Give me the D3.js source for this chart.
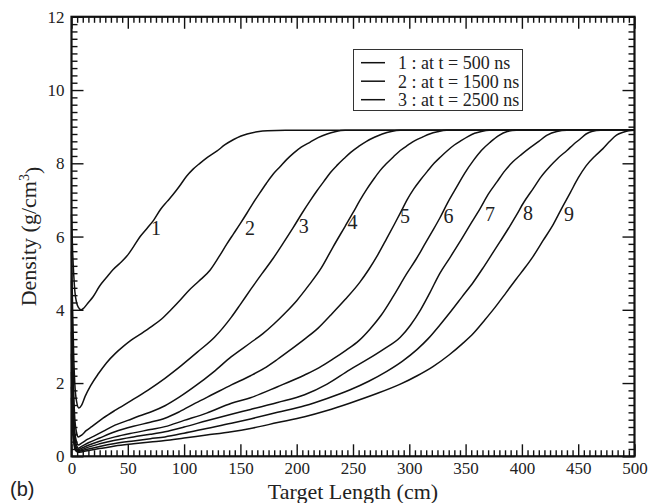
<!DOCTYPE html>
<html>
<head>
<meta charset="utf-8">
<script src="https://cdn.jsdelivr.net/npm/d3@7"></script>
<style>
  html, body { margin: 0; padding: 0; background: #fff; }
  svg { display: block; }
  svg text { font-family: "Liberation Serif", "Times New Roman", Times, serif; }
  svg text.tag { font-family: "Liberation Sans", Arial, sans-serif; }
</style>
</head>
<body>
<svg id="chart" width="650" height="503"></svg>
<script>
// Density profiles along the target (cm -> g/cm^3), one array per curve
const curve1 = [[0,6.6],[1,5.6],[2,4.95],[3,4.5],[4.5,4.2],[6,4.07],[8.5,4.0],[11,4.05],[15,4.2],[19,4.35],[25,4.65],[31,4.88],[37,5.1],[43,5.27],[49,5.46],[55,5.72],[61,6.0],[67,6.22],[73,6.45],[79,6.74],[85,6.96],[90,7.14],[96,7.38],[102,7.64],[108,7.84],[114,8.0],[121,8.17],[129,8.33],[136,8.5],[144,8.65],[150,8.74],[156,8.8],[165,8.86],[174,8.89],[190,8.9],[500,8.9]];
const curve2 = [[0,5.6],[1,4.0],[2,2.7],[3,1.95],[4.5,1.5],[6.5,1.32],[9,1.4],[12,1.63],[17,1.93],[24,2.26],[31,2.55],[39,2.81],[46,3.0],[53,3.17],[62,3.35],[71,3.54],[80,3.75],[89,4.02],[97,4.28],[104,4.52],[113,4.78],[123,5.08],[131,5.45],[138,5.8],[144,6.08],[150,6.36],[156,6.65],[161,6.9],[167,7.18],[173,7.45],[179,7.7],[185,7.9],[191,8.1],[197,8.27],[204,8.44],[212,8.58],[219,8.7],[227,8.8],[234,8.86],[243,8.9],[500,8.9]];
const curve3 = [[0,4.8],[1,3.0],[2,1.7],[3,1.0],[4.5,0.65],[6,0.53],[9,0.58],[13,0.7],[18,0.81],[28,1.04],[39,1.26],[53,1.52],[68,1.81],[83,2.13],[98,2.49],[112,2.85],[127,3.25],[142,3.8],[150,4.15],[159,4.55],[169,4.98],[179,5.4],[188,5.82],[197,6.25],[205,6.65],[212,6.98],[218,7.25],[224,7.5],[230,7.75],[236,7.95],[242,8.13],[248,8.3],[255,8.46],[262,8.6],[269,8.71],[276,8.8],[284,8.87],[292,8.9],[500,8.9]];
const curve4 = [[0,4.0],[1,2.3],[2,1.2],[3,0.65],[4.5,0.4],[6,0.31],[9,0.36],[14,0.46],[20,0.55],[28,0.68],[38.6,0.85],[50,0.98],[60,1.1],[72,1.23],[83,1.38],[96,1.62],[110,1.92],[126,2.3],[142,2.72],[159,3.1],[170,3.35],[180,3.62],[190,3.92],[200,4.25],[211,4.68],[222,5.15],[232,5.7],[243,6.28],[250,6.65],[256,6.98],[262,7.28],[268,7.55],[274,7.8],[280,8.0],[286,8.18],[292,8.35],[299,8.5],[305,8.62],[312,8.72],[318,8.8],[325,8.86],[333,8.9],[500,8.9]];
const curve5 = [[0,3.4],[1,1.8],[2,0.9],[3,0.5],[4.5,0.3],[6,0.22],[9,0.27],[15,0.37],[25,0.5],[38.6,0.67],[55,0.82],[70,0.93],[83,1.04],[96,1.22],[110,1.45],[126,1.7],[142,1.95],[159,2.2],[171,2.4],[183,2.65],[195,2.92],[207,3.2],[219,3.5],[230,3.85],[243,4.28],[256,4.75],[264,5.1],[272,5.5],[280,5.95],[287,6.35],[293,6.7],[298,7.0],[304,7.3],[310,7.55],[316,7.78],[322,8.0],[328,8.18],[334,8.35],[340,8.5],[346,8.62],[352,8.73],[358,8.82],[364,8.87],[371,8.9],[500,8.9]];
const curve6 = [[0,2.8],[1,1.4],[2,0.7],[3,0.38],[4.5,0.23],[6,0.18],[9,0.22],[15,0.3],[25,0.41],[38.6,0.53],[55,0.64],[70,0.73],[83,0.81],[100,0.98],[120,1.18],[142,1.45],[159,1.6],[183,1.9],[207,2.22],[220,2.42],[232,2.65],[244,2.9],[255,3.15],[265,3.47],[275,3.85],[286,4.38],[298,5.0],[306,5.38],[313,5.75],[320,6.12],[327,6.5],[334,6.92],[342,7.35],[349,7.72],[357,8.08],[364,8.35],[372,8.58],[379,8.75],[387,8.87],[395,8.9],[500,8.9]];
const curve7 = [[0,2.3],[1,1.1],[2,0.55],[3,0.3],[4.5,0.18],[6,0.15],[9,0.18],[15,0.25],[25,0.34],[38.6,0.44],[55,0.53],[70,0.6],[83,0.67],[100,0.8],[120,0.97],[142,1.15],[159,1.28],[183,1.47],[207,1.68],[227,1.97],[247,2.36],[262,2.63],[277,2.92],[292,3.25],[301,3.58],[310,4.0],[318,4.45],[327,4.99],[336,5.42],[345,5.86],[354,6.32],[363,6.77],[370,7.15],[378,7.5],[385,7.8],[392,8.04],[400,8.25],[407,8.42],[415,8.6],[422,8.76],[431,8.87],[440,8.9],[500,8.9]];
const curve8 = [[0,1.9],[1,0.9],[2,0.45],[3,0.25],[4.5,0.15],[6,0.13],[9,0.15],[15,0.2],[25,0.27],[38.6,0.35],[55,0.42],[70,0.48],[83,0.53],[100,0.63],[120,0.76],[142,0.9],[159,1.02],[183,1.2],[207,1.38],[227,1.58],[247,1.81],[264,2.05],[280,2.32],[294,2.6],[307,2.92],[317,3.22],[327,3.58],[337,3.96],[347,4.36],[357,4.76],[365,5.12],[373,5.5],[381,5.88],[388,6.22],[395,6.58],[402,6.95],[410,7.31],[417,7.63],[425,7.92],[432,8.14],[440,8.35],[446,8.52],[452,8.67],[457,8.8],[462,8.87],[470,8.9],[500,8.9]];
const curve9 = [[0,1.6],[1,0.75],[2,0.38],[3,0.2],[4.5,0.13],[6,0.11],[9,0.12],[15,0.16],[25,0.21],[38.6,0.28],[55,0.34],[70,0.39],[83,0.43],[100,0.5],[120,0.58],[142,0.67],[159,0.76],[183,0.92],[207,1.08],[227,1.25],[247,1.45],[270,1.7],[292,1.97],[307,2.2],[321,2.45],[335,2.76],[347,3.07],[357,3.36],[367,3.72],[377,4.1],[386,4.47],[395,4.84],[403,5.16],[410,5.46],[419,5.9],[428,6.34],[435,6.75],[443,7.2],[450,7.6],[457,7.93],[465,8.2],[472,8.4],[478,8.6],[484,8.77],[490,8.85],[495,8.89],[500,8.9]];

const curves = [curve1, curve2, curve3, curve4, curve5, curve6, curve7, curve8, curve9];

// Curve numbers and where each one is written (cm, g/cm^3)
const curveNames = ["1", "2", "3", "4", "5", "6", "7", "8", "9"];
const curveNameAt = [[75,6.04],[158.5,6.04],[206.2,6.09],[249.6,6.2],[296.2,6.38],[334.8,6.38],[371.7,6.42],[405.4,6.45],[441.8,6.42]];

const legendLabels = ["1 : at t = 500 ns", "2 : at t = 1500 ns", "3 : at t = 2500 ns"];

const xTicks = [0, 50, 100, 150, 200, 250, 300, 350, 400, 450, 500];
const yTicks = [0, 2, 4, 6, 8, 10, 12];
const xMinor = d3.range(0, 500.01, 5).filter(v => v % 50 !== 0);
const yMinor = d3.range(0, 12.001, 0.2).map(v => +v.toFixed(1)).filter(v => Math.abs(v / 2 - Math.round(v / 2)) > 1e-6);

const svg = d3.select("#chart");
const ink = "#111";

const x = d3.scaleLinear().domain([0, 500]).range([71.5, 634.5]);
const y = d3.scaleLinear().domain([0, 12]).range([456.3, 16.8]);

const x0 = x(0), x1 = x(500), y0 = y(0), y1 = y(12);

// Axes: ticks point inward on all four sides
function styleAxis(sel) {
  sel.select(".domain").remove();
  sel.attr("font-family", null).attr("font-size", null);
  sel.selectAll(".tick line").attr("stroke", ink).attr("stroke-width", 1.4);
  sel.selectAll(".tick text")
    .attr("fill", "#222")
    .style("font-size", "17px");
}

svg.append("g").attr("transform", `translate(0,${y0})`)
  .call(d3.axisBottom(x).tickValues(xTicks).tickSize(-12).tickPadding(6).tickFormat(d3.format("d")))
  .call(styleAxis);
svg.append("g").attr("transform", `translate(0,${y0})`)
  .call(d3.axisBottom(x).tickValues(xMinor).tickSize(-6).tickFormat(""))
  .call(styleAxis);
svg.append("g").attr("transform", `translate(0,${y1})`)
  .call(d3.axisTop(x).tickValues(xTicks).tickSize(-12).tickFormat(""))
  .call(styleAxis);
svg.append("g").attr("transform", `translate(0,${y1})`)
  .call(d3.axisTop(x).tickValues(xMinor).tickSize(-6).tickFormat(""))
  .call(styleAxis);

svg.append("g").attr("transform", `translate(${x0},0)`)
  .call(d3.axisLeft(y).tickValues(yTicks).tickSize(-12).tickPadding(7).tickFormat(d3.format("d")))
  .call(styleAxis);
svg.append("g").attr("transform", `translate(${x0},0)`)
  .call(d3.axisLeft(y).tickValues(yMinor).tickSize(-6).tickFormat(""))
  .call(styleAxis);
svg.append("g").attr("transform", `translate(${x1},0)`)
  .call(d3.axisRight(y).tickValues(yTicks).tickSize(-12).tickFormat(""))
  .call(styleAxis);
svg.append("g").attr("transform", `translate(${x1},0)`)
  .call(d3.axisRight(y).tickValues(yMinor).tickSize(-6).tickFormat(""))
  .call(styleAxis);

// Density curves
const line = d3.line()
  .x(d => x(d[0]))
  .y(d => y(d[1]))
  .curve(d3.curveMonotoneX);

svg.append("g")
  .selectAll("path")
  .data(curves)
  .join("path")
  .attr("d", line)
  .attr("fill", "none")
  .attr("stroke", ink)
  .attr("stroke-width", 1.5)
  .attr("stroke-linejoin", "round");

// Plot frame
svg.append("rect")
  .attr("x", x0).attr("y", y1)
  .attr("width", x1 - x0).attr("height", y0 - y1)
  .attr("fill", "none")
  .attr("stroke", ink)
  .attr("stroke-width", 2.2);

// Curve numbers
svg.append("g")
  .selectAll("text")
  .data(curveNames)
  .join("text")
  .attr("x", (d, i) => x(curveNameAt[i][0]))
  .attr("y", (d, i) => y(curveNameAt[i][1]))
  .attr("text-anchor", "middle")
  .attr("fill", "#222")
  .style("font-size", "20px")
  .text(d => d);

// Legend
const legend = svg.append("g");
legend.append("rect")
  .attr("x", 353.5).attr("y", 49.5)
  .attr("width", 169).attr("height", 61)
  .attr("fill", "#fff")
  .attr("stroke", "#333")
  .attr("stroke-width", 1);
legendLabels.forEach((t, i) => {
  const base = 69 + i * 18.5;
  legend.append("line")
    .attr("x1", 361).attr("x2", 385)
    .attr("y1", base - 6.3).attr("y2", base - 6.3)
    .attr("stroke", ink).attr("stroke-width", 1.5);
  legend.append("text")
    .attr("x", 398).attr("y", base)
    .attr("fill", "#222")
    .style("font-size", "18px")
    .text(t);
});

// Axis titles
svg.append("text")
  .attr("x", (x0 + x1) / 2).attr("y", 498.5)
  .attr("text-anchor", "middle")
  .attr("fill", "#222")
  .style("font-size", "22px")
  .text("Target Length (cm)");

const yTitle = svg.append("text")
  .attr("transform", `translate(35.5,${(y0 + y1) / 2}) rotate(-90)`)
  .attr("text-anchor", "middle")
  .attr("fill", "#222")
  .style("font-size", "22px");
yTitle.append("tspan").text("Density (g/cm");
yTitle.append("tspan").attr("dy", "-0.5em").style("font-size", "14px").text("3");
yTitle.append("tspan").attr("dy", "0.5em").text(")");

// Panel tag
svg.append("text")
  .attr("class", "tag")
  .attr("x", 10).attr("y", 496)
  .attr("fill", "#222")
  .style("font-size", "20px")
  .text("(b)");
</script>
</body>
</html>
